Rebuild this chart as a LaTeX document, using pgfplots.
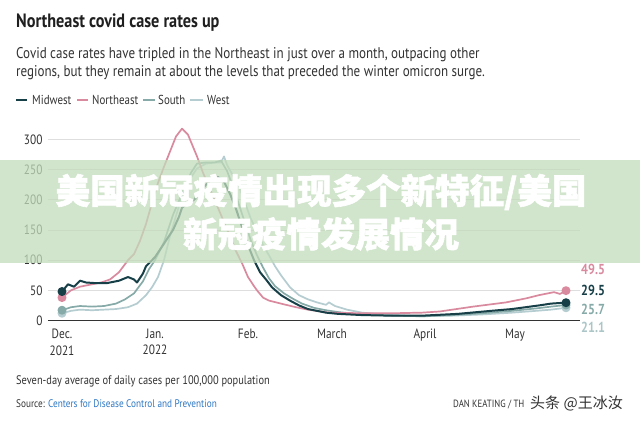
\documentclass[border=0pt]{standalone}
\usepackage{fontspec}
\usepackage{pgfplots}
\pgfplotsset{compat=1.18}
\setmainfont{PT Sans}[FakeStretch=0.84]
\newfontfamily\cjk{Noto Sans CJK SC}
\newfontfamily\cjkheavy{Noto Sans CJK SC}[BoldFeatures={FakeBold=1.6}]
\definecolor{midwest}{HTML}{173F48}
\definecolor{northeast}{HTML}{DA8A9F}
\definecolor{south}{HTML}{86AAA8}
\definecolor{west}{HTML}{B5CDD0}
\definecolor{txt}{HTML}{333333}
\definecolor{gridc}{HTML}{DEDEDE}
\definecolor{srcblue}{HTML}{2F78C4}
\definecolor{band}{HTML}{C2DCBB}
\begin{document}
\begin{tikzpicture}[x=1pt,y=1pt]
\path[use as bounding box, fill=white] (0,0) rectangle (640,424);
% headings
\node[anchor=base west, inner sep=0, text=black!88] at (16,396) {\fontsize{19.3}{21}\selectfont\bfseries Northeast covid case rates up};
\node[anchor=base west, inner sep=0, text=txt] at (16,365) {\fontsize{15.5}{17}\selectfont Covid case rates have tripled in the Northeast in just over a month, outpacing other};
\node[anchor=base west, inner sep=0, text=txt] at (16,347) {\fontsize{15.5}{17}\selectfont regions, but they remain at about the levels that preceded the winter omicron surge.};
% legend
\begin{scope}[line width=2.2pt]
\draw[midwest] (16,324) -- (27,324);
\draw[northeast] (77,324) -- (88,324);
\draw[south] (143,324) -- (155,324);
\draw[west] (190,324) -- (203,324);
\end{scope}
\begin{scope}[every node/.style={anchor=base west, inner sep=0, text=txt, font=\fontsize{13}{14}\selectfont}]
\node at (32,319.5) {Midwest};
\node at (92,319.5) {Northeast};
\node at (158,319.5) {South};
\node at (207,319.5) {West};
\end{scope}
\begin{axis}[
  at={(48pt,103.5pt)}, anchor=south west,
  scale only axis, width=532pt, height=181pt,
  xmin=-4.667, xmax=172.667, ymin=0, ymax=300,
  clip=false,
  axis line style={draw=none},
  ytick={0,50,...,300},
  ymajorgrids, grid style={gridc, line width=0.8pt},
  xtick={0,31,62,90,121,151},
  xticklabels={Dec.\\2021,Jan.\\2022,Feb.,March,April,May},
  major tick length=0pt,
  ticklabel style={text=txt, font=\fontsize{13.5}{16.5}\selectfont},
  xticklabel style={align=center, anchor=north, yshift=-5pt},
  yticklabel style={anchor=east, xshift=-2pt},
  /pgf/number format/assume math mode=true,
  every axis plot/.append style={line width=1.7pt, line join=round},
]
\addplot[west] coordinates {(0,12)(3,16)(6,18)(10,17)(14,18)(18,19)(22,22)(25,28)(28,42)(30,55)(32,72)(34,100)(36,140)(39,190)(42,230)(45,252)(48,260)(51,262)(53,262)(54,272)(55,258)(57,240)(59,222)(61,195)(63,168)(65,148)(67,125)(69,108)(71,90)(73,75)(76,55)(79,42)(82,35)(85,30)(88,26)(89,30)(91,24)(95,18)(100,13)(110,9)(120,7)(130,8)(140,10)(150,13)(158,16)(163,18)(168,21.1)};
\addplot[south] coordinates {(0,17)(3,22)(6,24)(10,23)(14,24)(18,28)(21,35)(24,45)(27,65)(29,85)(31,100)(34,130)(37,175)(40,210)(43,245)(45,260)(48,262)(51,262)(53,265)(55,248)(57,222)(59,192)(61,162)(63,132)(65,108)(67,88)(69,70)(71,57)(74,45)(77,36)(80,28)(84,21)(88,17)(92,14)(100,10)(110,8)(120,7)(130,9)(140,12)(150,16)(158,20)(163,23)(168,25.7)};
\addplot[northeast] coordinates {(0,38)(3,50)(6,56)(10,60)(13,63)(16,68)(19,80)(22,100)(24,110)(26,132)(28,160)(30,195)(32,228)(34,255)(36,280)(38,305)(40,318)(42,308)(45,272)(47,245)(50,210)(53,175)(56,140)(58,115)(60,95)(62,72)(64,57)(65,50)(67,38)(69,33)(73,28)(78,22)(82,18)(89,13)(100,12)(110,12)(120,13)(126,15)(137,23)(148,30)(155,37)(159,42)(164,47)(166,44)(168,49.5)};
\addplot[midwest, line width=2pt] coordinates {(0,48)(2,60)(4,56)(6,66)(8,63)(11,62)(15,62)(19,66)(22,72)(24,68)(25,63)(27,78)(28,90)(30,100)(31,105)(33,120)(35,135)(37,150)(39,172)(40,187)(42,195)(44,200)(46,212)(48,225)(50,235)(52,238)(54,230)(56,210)(58,185)(60,155)(62,125)(64,100)(66,80)(68,68)(70,55)(73,42)(76,33)(79,25)(82,19)(85,16)(88,13)(92,11)(100,9)(110,8)(120,8)(132,11)(143,16)(150,19)(159,25)(163,28)(166,29)(168,29.5)};
% start and end dots
\addplot[only marks, mark=*, mark size=3.6pt, west] coordinates {(0,12)(168,21.1)};
\addplot[only marks, mark=*, mark size=3.6pt, south] coordinates {(0,17)(168,25.7)};
\addplot[only marks, mark=*, mark size=3.6pt, northeast] coordinates {(0,38)(168,49.5)};
\addplot[only marks, mark=*, mark size=3.6pt, midwest] coordinates {(0,48)(168,29.5)};
% zero line
\draw[txt, line width=1pt] (axis cs:-4.667,0) -- (axis cs:172.667,0);
\end{axis}
% end values
\begin{scope}[every node/.style={anchor=west, inner sep=0, font=\fontsize{14.5}{15}\selectfont\bfseries}]
\node[text=northeast] at (581,155) {49.5};
\node[text=midwest] at (581,134) {29.5};
\node[text=south] at (581,115) {25.7};
\node[text=west!80!south] at (581,97) {21.1};
\end{scope}
% footer
\node[anchor=base west, inner sep=0, text=txt] at (16,40) {\fontsize{12.4}{14}\selectfont Seven-day average of daily cases per 100,000 population};
\node[anchor=base west, inner sep=0, text=txt] at (16,17) {\fontsize{11}{12}\selectfont Source: \textcolor{srcblue}{Centers for Disease Control and Prevention}};
\node[anchor=base west, inner sep=0, text=txt] at (453,17) {\fontsize{10.5}{12}\selectfont DAN KEATING / TH};
\node[anchor=base west, inner sep=0, text=txt] at (530,16) {\fontsize{15}{16}\selectfont\cjk 头条 @王冰汝};
% banner
\fill[band, opacity=0.75] (0,161) rectangle (640,264);
\node[text=white, inner sep=0] at (321,232) {\fontsize{34.5}{37}\selectfont\cjkheavy\bfseries 美国新冠疫情出现多个新特征/美国};
\node[text=white, inner sep=0] at (321,190) {\fontsize{34.5}{37}\selectfont\cjkheavy\bfseries 新冠疫情发展情况};
\end{tikzpicture}
\end{document}
